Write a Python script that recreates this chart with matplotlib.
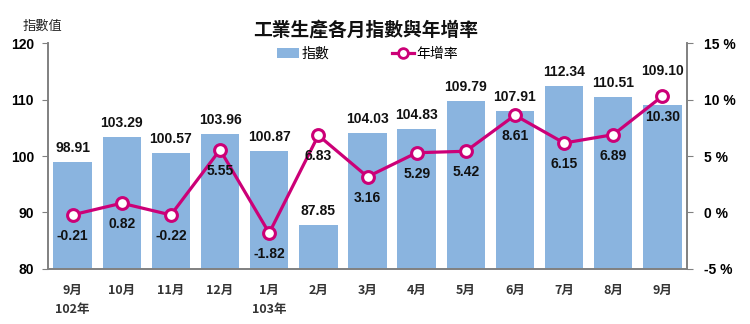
import matplotlib
matplotlib.use("Agg")
import matplotlib.pyplot as plt
from matplotlib.lines import Line2D
from matplotlib.patches import Patch

plt.rcParams['font.family'] = ['Noto Sans CJK TC', 'DejaVu Sans']

months = ['9月', '10月', '11月', '12月', '1月', '2月', '3月', '4月', '5月', '6月', '7月', '8月', '9月']
years = {0: '102年', 4: '103年'}
index_vals = [98.91, 103.29, 100.57, 103.96, 100.87, 87.85, 104.03, 104.83, 109.79, 107.91, 112.34, 110.51, 109.10]
growth = [-0.21, 0.82, -0.22, 5.55, -1.82, 6.83, 3.16, 5.29, 5.42, 8.61, 6.15, 6.89, 10.30]
left_ticks = [80, 90, 100, 110, 120]
right_ticks = [-5, 0, 5, 10, 15]

BAR = '#8AB4DF'
LINE = '#CC0077'
GRAY = '#808080'
NUMFONT = ['Liberation Sans', 'DejaVu Sans']

fig = plt.figure(figsize=(7.5, 3.24), dpi=100)
ax = fig.add_axes([0.064, 0.170, 0.852, 0.697])
ax2 = ax.twinx()

x = list(range(len(months)))
ax.bar(x, index_vals, width=0.78, color=BAR, zorder=2)
ax.set_ylim(80, 120)
ax.set_xlim(-0.5, len(months) - 0.5)
ax.set_yticks(left_ticks)
ax.set_yticklabels([str(t) for t in left_ticks], family=NUMFONT, fontweight='bold', fontsize=10)
ax.set_xticks(x)
ax.set_xticklabels(months, fontsize=9, fontweight='bold', color='#333333')
ax.tick_params(axis='x', length=0, pad=11)
ax.tick_params(axis='y', length=4, color=GRAY, pad=6, direction='out')

# map growth values onto the left scale to detect label/marker clashes
lo, hi = ax.get_ylim()
glo, ghi = -5, 15
for i, v in enumerate(index_vals):
    g_left = lo + (growth[i] - glo) * (hi - lo) / (ghi - glo)
    off = 5
    if 0 < g_left - v < 4:
        off = 5 + (g_left - v) * 5.6 + 6
    ax.annotate(f'{v:.2f}', (i, v), xytext=(0, off), textcoords='offset points',
                ha='center', va='bottom', family=NUMFONT, fontweight='bold', fontsize=10, color='#111111', zorder=7)

ax2.plot(x, growth, color=LINE, lw=2.3, marker='o', ms=8.5, mfc='white', mec=LINE, mew=2.2, zorder=5)
ax2.set_ylim(glo, ghi)
ax2.set_yticks(right_ticks)
ax2.set_yticklabels([f'{t} %' for t in right_ticks], family=NUMFONT, fontweight='bold', fontsize=10)
ax2.tick_params(axis='y', length=4, color=GRAY, pad=8, direction='out')
for i, v in enumerate(growth):
    ax2.annotate(f'{v:.2f}', (i, v), xytext=(0, -10), textcoords='offset points',
                 ha='center', va='top', family=NUMFONT, fontweight='bold', fontsize=10, color='#111111', zorder=6)

for a in (ax, ax2):
    a.spines['top'].set_visible(False)
    for s in ('left', 'right', 'bottom'):
        a.spines[s].set_color(GRAY)
        a.spines[s].set_linewidth(1.2)

for i, yl in years.items():
    ax.annotate(yl, (i, 0), xycoords=('data', 'axes fraction'), xytext=(0, -29.5), textcoords='offset points',
                ha='center', va='center', fontsize=9, fontweight='bold', color='#333333')

fig.text(0.487, 0.905, '工業生產各月指數與年增率', ha='center', va='center', fontsize=13.5, fontweight='bold', color='#111111')
fig.text(0.056, 0.92, '指數值', ha='center', va='center', fontsize=9.5, color='#222222')

handles = [Patch(facecolor=BAR, edgecolor='none'),
           Line2D([0], [0], color=LINE, lw=2.3, marker='o', ms=7, mfc='white', mec=LINE, mew=2)]
fig.legend(handles, ['指數', '年增率'], loc='center', bbox_to_anchor=(0.49, 0.833), ncol=2, frameon=False,
           fontsize=10, handlelength=1.6, handletextpad=0.2, columnspacing=4.5, borderpad=0)

fig.savefig('out.png', dpi=100)
